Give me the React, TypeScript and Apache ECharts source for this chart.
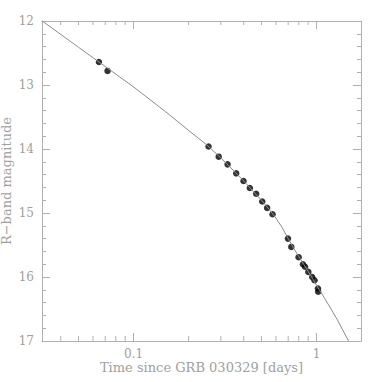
import React, { useEffect, useRef } from "react";
import * as echarts from "echarts";

// Observed R-band photometry: [days since GRB, magnitude]
const obsTimes = [
  0.0647, 0.0721, 0.257, 0.292, 0.3265, 0.364, 0.399, 0.432, 0.468, 0.505, 0.537,
  0.575, 0.698, 0.728, 0.798, 0.843, 0.865, 0.902, 0.947, 0.975, 1.018, 1.021,
];
const obsMags = [
  12.64, 12.78, 13.96, 14.12, 14.24, 14.38, 14.5, 14.61, 14.7, 14.82, 14.92,
  15.02, 15.4, 15.53, 15.69, 15.8, 15.84, 15.92, 16.0, 16.05, 16.18, 16.23,
];

// Fitted (broken power-law) curve
const fitTimes = [
  0.0317, 0.05, 0.1, 0.15, 0.2, 0.25, 0.3, 0.35, 0.4, 0.45, 0.5, 0.55, 0.6, 0.65,
  0.7, 0.75, 0.8, 0.85, 0.9, 0.95, 1.0, 1.1, 1.2, 1.3, 1.497,
];
const fitMags = [
  12.0, 12.41, 13.03, 13.42, 13.71, 13.93, 14.14, 14.33, 14.5, 14.66, 14.8, 14.94, 15.08, 15.23,
  15.4, 15.55, 15.68, 15.8, 15.91, 16.02, 16.13, 16.32, 16.5, 16.67, 17.0,
];

// Axis settings
const xMin = 0.0316;
const xMax = 1.75;
const yMin = 12;
const yMax = 17;
const xMinorTicks = [0.04, 0.05, 0.06, 0.07, 0.08, 0.09, 0.2, 0.3, 0.4, 0.5, 0.6, 0.7, 0.8, 0.9];

const GRAY = "#a0a0a0";
const AXIS = "#b0b0b0";
const FONT = "DejaVu Serif";

export default function App() {
  const ref = useRef<HTMLDivElement>(null);
  useEffect(() => {
    if (!ref.current) return;
    const chart = echarts.init(ref.current, null, { renderer: "svg" });
    const common = {
      type: "log" as const,
      logBase: 10,
      min: xMin,
      max: xMax,
      splitLine: { show: false },
      axisLine: { lineStyle: { color: AXIS, width: 1 } },
      axisTick: { inside: true, length: 8, lineStyle: { color: AXIS } },
    };
    chart.setOption({
      animation: false,
      backgroundColor: "#ffffff",
      grid: {
        left: 42,
        right: 21,
        top: 21,
        bottom: 41,
        containLabel: false,
        outerBoundsMode: "none",
      },
      xAxis: [
        {
          ...common,
          position: "bottom",
          name: "Time since GRB 030329 [days]",
          nameLocation: "middle",
          nameGap: 20,
          nameMoveOverlap: false,
          nameTextStyle: { color: GRAY, fontFamily: FONT, fontSize: 13 },
          axisLabel: {
            color: GRAY,
            fontFamily: FONT,
            fontSize: 12,
            margin: 7,
            showMinLabel: false,
            showMaxLabel: false,
            formatter: (v: number) => (v >= 1 ? String(Math.round(v)) : String(+v.toPrecision(2))),
          },
        },
        {
          ...common,
          position: "top",
          axisLabel: { show: false },
        },
      ],
      yAxis: [
        {
          type: "value",
          inverse: true,
          min: yMin,
          max: yMax,
          interval: 1,
          position: "left",
          name: "R\u2212band magnitude",
          nameLocation: "middle",
          nameGap: 29,
          nameMoveOverlap: false,
          nameTextStyle: { color: GRAY, fontFamily: FONT, fontSize: 13 },
          splitLine: { show: false },
          axisLine: { lineStyle: { color: AXIS } },
          axisTick: { inside: true, length: 8, lineStyle: { color: AXIS } },
          minorTick: { show: true, splitNumber: 5, length: 4, lineStyle: { color: AXIS } },
          axisLabel: { color: GRAY, fontFamily: FONT, fontSize: 12, margin: 8 },
        },
        {
          type: "value",
          inverse: true,
          min: yMin,
          max: yMax,
          interval: 1,
          position: "right",
          splitLine: { show: false },
          axisLine: { lineStyle: { color: AXIS } },
          axisTick: { inside: true, length: 8, lineStyle: { color: AXIS } },
          minorTick: { show: true, splitNumber: 5, length: 4, lineStyle: { color: AXIS } },
          axisLabel: { show: false },
        },
      ],
      series: [
        {
          type: "custom",
          xAxisIndex: 0,
          yAxisIndex: 0,
          silent: true,
          data: xMinorTicks.map((t) => [t]),
          renderItem: (_params: any, api: any) => {
            const t = api.value(0);
            const b = api.coord([t, yMax]);
            const tp = api.coord([t, yMin]);
            return {
              type: "group",
              children: [
                {
                  type: "line",
                  shape: { x1: b[0], y1: b[1], x2: b[0], y2: b[1] - 5 },
                  style: { stroke: AXIS, lineWidth: 1 },
                },
                {
                  type: "line",
                  shape: { x1: tp[0], y1: tp[1], x2: tp[0], y2: tp[1] + 4 },
                  style: { stroke: AXIS, lineWidth: 1 },
                },
              ],
            };
          },
        },
        {
          type: "line",
          data: fitTimes.map((t, i) => [t, fitMags[i]]),
          smooth: false,
          symbol: "none",
          lineStyle: { color: "#8c8c8c", width: 1 },
          silent: true,
        },
        {
          type: "scatter",
          data: obsTimes.map((t, i) => [t, obsMags[i]]),
          symbol: "circle",
          symbolSize: 6.5,
          itemStyle: { color: "#000000" },
        },
      ],
    });
    return () => chart.dispose();
  }, []);
  return (
    <div
      ref={ref}
      style={{ position: "fixed", left: 0, top: 0, width: 382, height: 382, background: "#fff" }}
    />
  );
}
